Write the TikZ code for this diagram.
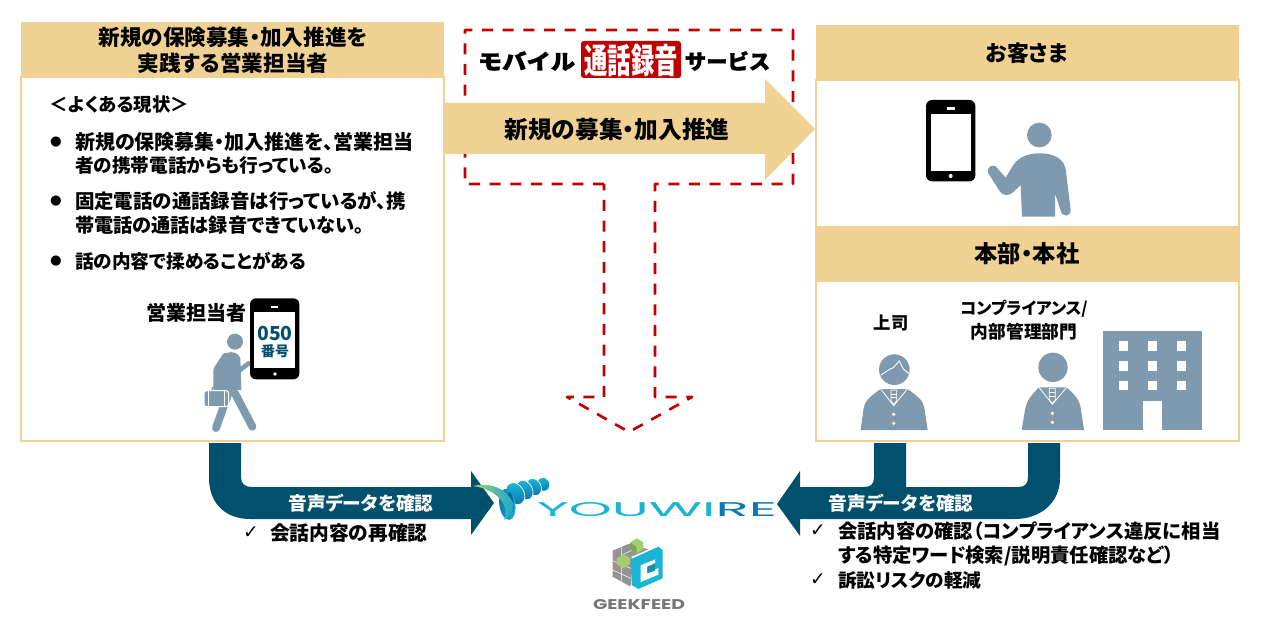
\documentclass[tikz,border=0pt]{standalone}
\usepackage{fontspec}
\usepackage{graphicx}
\setmainfont[RawFeature=+palt]{Noto Sans CJK JP}
\newfontfamily\cjkblack[FakeBold=2]{Noto Sans CJK JP Black}
\newfontfamily\dejavu{DejaVu Sans}
\newfontfamily\logolatin{Poppins}
\definecolor{beige}{HTML}{EFD193}
\definecolor{navy}{HTML}{00506E}
\definecolor{slate}{HTML}{7F9AAF}
\definecolor{dashred}{HTML}{C00000}
\definecolor{cya}{HTML}{19B5D3}
\definecolor{cyb}{HTML}{0E77B5}
\definecolor{grn}{HTML}{A4CE6C}
\definecolor{gry}{HTML}{949494}
\newcommand{\fz}[1]{\fontsize{#1pt}{#1pt}\selectfont\bfseries}
\newcommand{\fitbox}[3]{\resizebox{#1pt}{#2pt}{#3}}
\tikzset{
  txt/.style={inner sep=0pt,outer sep=0pt,align=center,text=black},
  lft/.style={txt,anchor=west,align=left},
  hdr/.style={fill=beige,draw=none},
  bx/.style={draw=beige,line width=1.5pt,fill=white},
  limb/.style={draw=slate,line cap=round,line join=round},
  dk/.style={fill=navy,draw=none}
}
\begin{document}
\begin{tikzpicture}[x=0.75pt,y=-0.75pt]
\useasboundingbox (0,0) rectangle (1261,631);
\fill[white] (0,0) rectangle (1261,631);
% boxes
\draw[bx] (21,77) rectangle (444,441);
\fill[hdr] (21,22) rectangle (444,77);
\draw[bx] (816,80) rectangle (1239,441);
\fill[hdr] (816,25) rectangle (1239,80);
\fill[hdr] (816,226) rectangle (1239,282);
% dashed callout
\draw[dashred,line width=2pt,dash pattern=on 8.3pt off 7.2pt,line join=round]
  (604,184) -- (465,184) -- (465,30) -- (793,30) -- (793,184) -- (655,184) -- (655,397) -- (692,397) -- (629,432) -- (567,397) -- (604,397) -- cycle;
% beige arrow
\fill[beige] (445,103) -- (765,103) -- (765,79) -- (815,129) -- (765,180) -- (765,154) -- (445,154) -- cycle;
\node[txt] (arrowlbl) at (617,130) {\fz{17.8}新規の募集・加入推進};
% mobile logo
\fill[dashred,rounded corners=2pt] (581,41) rectangle (681,78);
\node[txt] (logo1) at (526.5,61) {\fitbox{73}{13.5}{\cjkblack モバイル}};
\node[txt,text=white] (logo2) at (631,60) {\fitbox{70}{22}{\bfseries 通話録音}};
\node[txt] (logo3) at (727.5,61) {\fitbox{64}{13.5}{\cjkblack サービス}};
% left text
\node[txt] (h1a) at (233,37) {\fz{16.2}新規の保険募集・加入推進を};
\node[txt] (h1b) at (233,63) {\fz{16.2}実践する営業担当者};
\node[lft] (gen) at (50,105) {\fz{13.8}＜よくある現状＞};
\node[txt] (b1) at (56,142) {\dejavu\fontsize{10pt}{10pt}\selectfont ●};
\node[txt] (b2) at (56,201) {\dejavu\fontsize{10pt}{10pt}\selectfont ●};
\node[txt] (b3) at (56,261) {\dejavu\fontsize{10pt}{10pt}\selectfont ●};
\node[lft] (l1) at (75,142) {\fz{15}新規の保険募集・加入推進を、営業担当};
\node[lft] (l2) at (75,165) {\fz{14}者の携帯電話からも行っている。};
\node[lft] (l3) at (75,201) {\fz{14.6}固定電話の通話録音は行っているが、携};
\node[lft] (l4) at (75,225) {\fz{14.4}帯電話の通話は録音できていない。};
\node[lft] (l5) at (75,261) {\fz{14}話の内容で揉めることがある};
\node[txt] (sales) at (196,313) {\fz{15}営業担当者};
% salesperson
\begin{scope}[shift={(130,290)},x=0.25pt,y=-0.25pt]
 \fill[slate] (315,155) circle (24);
 \fill[slate] (292,188) .. controls (310,184) and (325,188) .. (331,205) -- (334,300) -- (272,300) -- (270,235) -- cycle;
 \draw[limb,line width=6pt] (288,200) -- (262,240) -- (262,292);
 \draw[limb,line width=6pt] (297,305) -- (258,414);
 \draw[limb,line width=6pt] (315,310) -- (367,410);
 \draw[limb,line width=3.5pt] (330,240) -- (356,220);
 \draw[white,line width=0.8pt,fill=slate,rounded corners=2pt] (222,302) rectangle (296,350);
 \draw[slate,line width=1.2pt] (246,300) -- (250,292) -- (268,292) -- (272,300);
 \draw[white,line width=0.6pt] (236,302) -- (236,350) (282,302) -- (282,350);
 \fill[black,rounded corners=4.5pt] (360,25) rectangle (508,268);
 \fill[white] (372,65) rectangle (496,235);
 \fill[white] (422,47) rectangle (445,53);
 \fill[white] (435,252) circle (5.5);
 \node[txt,text=navy] (n050) at (435,130) {\fontsize{14.5pt}{14.5pt}\selectfont\bfseries 050};
 \node[txt,text=navy] (nban) at (435,183) {\fontsize{10.5pt}{10.5pt}\selectfont\bfseries 番号};
\end{scope}
% right headers
\node[txt] (cust) at (1027,53) {\fz{16.4}お客さま};
\node[txt] (hq) at (1027,254) {\fz{17.5}本部・本社};
\node[txt] (boss) at (891,323) {\fz{13}上司};
\node[txt] (comp) at (1024,309) {\fz{12.4}コンプライアンス/};
\node[txt] (dept) at (1024,332) {\fz{13.3}内部管理部門};
% customer icons
\begin{scope}[shift={(900,90)},x=0.25pt,y=-0.25pt]
 \fill[black,rounded corners=4.5pt] (78,30) rectangle (226,274);
 \fill[white] (92,72) rectangle (213,242);
 \fill[white] (140,52) rectangle (164,60);
 \fill[white] (152,258) circle (6);
 \fill[slate] (418,135) circle (37);
 \fill[slate] (366,380) -- (362,285) -- (338,308) .. controls (325,318) and (310,318) .. (300,305) -- (265,250) .. controls (255,235) and (280,215) .. (292,235) -- (317,263) -- (340,225) .. controls (360,195) and (395,190) .. (420,190) .. controls (460,190) and (495,205) .. (498,245) -- (512,360) .. controls (512,382) and (486,382) .. (482,362) -- (465,310) -- (465,380) -- cycle;
\end{scope}
% hq icons
\begin{scope}[shift={(850,295)},x=0.25pt,y=-0.25pt]
 \fill[slate] (133,224) circle (46);
 \draw[white,line width=0.7pt] (93,240) -- (120,222) -- (130,218) -- (148,198) -- (160,222) -- (177,236);
 \fill[slate] (32,405) -- (40,345) .. controls (45,315) and (60,305) .. (92,282) -- (172,282) .. controls (205,305) and (220,315) .. (224,345) -- (233,405) -- cycle;
 \draw[white,line width=0.6pt] (92,282) -- (131,332) -- (172,282);
 \draw[white,line width=0.6pt] (123,285) -- (123,318) -- (131,328) -- (140,318) -- (140,285) -- cycle;
 \draw[white,line width=0.6pt] (123,297) -- (140,297) (123,308) -- (140,308);
 \fill[white] (131,358) circle (5.5) (131,385) circle (5.5);
 %
 \fill[slate] (609,217) circle (44);
 \fill[slate] (515,405) -- (525,345) .. controls (530,315) and (545,300) .. (567,277) -- (650,277) .. controls (675,300) and (690,315) .. (693,345) -- (702,405) -- cycle;
 \draw[white,line width=0.6pt] (567,277) -- (607,328) -- (650,277);
 \draw[white,line width=0.6pt] (598,280) -- (598,315) -- (607,325) -- (616,315) -- (616,280) -- cycle;
 \draw[white,line width=0.6pt] (598,293) -- (616,293) (598,304) -- (616,304);
 \fill[white] (607,355) circle (5.5) (607,382) circle (5.5);
 %
 \fill[slate] (760,107) rectangle (1055,405);
 \foreach \xx in {806,893,980} \foreach \yy in {139,198,257} \fill[white] (\xx,\yy) rectangle +(29,29);
 \fill[white] (880,318) rectangle (936,405);
\end{scope}
% navy arrows
\fill[dk] (209,443) -- (241,443) -- (241,477) .. controls (241,484) and (245,487) .. (252,487) -- (471,487) -- (471,471) -- (494,503) -- (471,535) -- (471,519) -- (250,519) .. controls (225,519) and (209,503) .. (209,478) -- cycle;
\fill[dk] (874,443) -- (906,443) -- (906,487) -- (1018,487) .. controls (1025,487) and (1028,484) .. (1028,477) -- (1028,443) -- (1060,443) -- (1060,478) .. controls (1060,503) and (1040,519) .. (1015,519) -- (800,519) -- (800,536) -- (777,504) -- (800,471) -- (800,487) -- (864,487) .. controls (871,487) and (874,484) .. (874,477) -- cycle;
\node[txt,text=white] (v1) at (361,503) {\fz{14}音声データを確認};
\node[txt,text=white] (v2) at (901,503) {\fz{14}音声データを確認};
\node[txt] (c1) at (251,533) {\dejavu\fontsize{14pt}{14pt}\selectfont ✓};
\node[lft] (t1) at (270,533) {\fz{14.8}会話内容の再確認};
\node[txt] (c2) at (818,531) {\dejavu\fontsize{14pt}{14pt}\selectfont ✓};
\node[lft] (t2) at (838,531) {\fz{14.5}会話内容の確認（コンプライアンス違反に相当};
\node[lft] (t3) at (838,556) {\fz{14.5}する特定ワード検索/説明責任確認など）};
\node[txt] (c3) at (818,580) {\dejavu\fontsize{14pt}{14pt}\selectfont ✓};
\node[lft] (t4) at (838,580) {\fz{14}訴訟リスクの軽減};
% youwire mark
\begin{scope}[shift={(468,465)},x=0.25pt,y=-0.25pt]
 \foreach \cx/\cy/\rx/\ry in {226/58/19/21, 198/66/21/27, 170/75/23/31, 142/86/26/35} {
   \shade[top color=cya,bottom color=cyb,draw=white,line width=0.5pt] (\cx,\cy) ellipse [x radius=\rx,y radius=\ry,rotate=30];
 }
 \shade[left color=cyb,right color=cya] (118,118) ellipse [x radius=24,y radius=47,rotate=8];
 \fill[cyb!85!black] (128,112) ellipse [x radius=9,y radius=30,rotate=8];
 \shade[left color=grn,right color=cya!80!cyb] (14,63) .. controls (60,52) and (115,65) .. (137,118) .. controls (140,135) and (125,155) .. (108,165) .. controls (128,120) and (85,72) .. (14,63) -- cycle;
\end{scope}
\node[txt] (youwire) at (657,510) {\fitbox{180}{10.5}{\logolatin\textcolor{cya}{YOUWI}\textcolor{cyb}{RE}}};
% geekfeed mark
\begin{scope}[shift={(590,530)},x=0.25pt,y=-0.25pt]
 \fill[gry] (68,62) -- (115,42) -- (175,58) -- (125,80) -- (122,170) -- (68,140) -- cycle;
 \draw[white,line width=0.4pt] (68,92) -- (122,115) (68,120) -- (122,145) (95,52) -- (95,155) (95,75) -- (150,50);
 \fill[grn] (120,38) -- (140,25) -- (160,36) -- (160,58) -- (140,70) -- (120,58) -- cycle;
 \fill[grn!70!black!70!grn] (120,38) -- (140,50) -- (140,70) -- (120,58) -- cycle;
 \fill[grn] (80,86) -- (100,72) -- (120,84) -- (120,102) -- (100,115) -- (80,102) -- cycle;
 \fill[cya] (122,88) -- (205,50) -- (218,60) -- (218,145) -- (145,177) -- (125,165) -- cycle;
 \fill[white] (152,106) -- (195,88) -- (195,100) -- (172,110) -- (172,128) -- (205,114) -- (205,134) -- (152,156) -- cycle;
 \fill[cya!80!black] (172,110) -- (195,100) -- (195,122) -- (172,130) -- cycle;
\end{scope}
\node[txt,text=gry!80!black] (geek) at (639,605) {\fitbox{69}{7.5}{\logolatin\bfseries GEEKFEED}};
\end{tikzpicture}
\end{document}
